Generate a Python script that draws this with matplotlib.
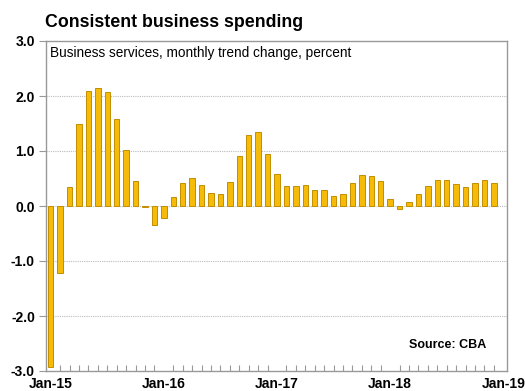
import matplotlib.pyplot as plt
import numpy as np

plt.rcParams['font.family'] = ['Liberation Sans', 'DejaVu Sans']

# monthly trend change, Jan-15 .. Dec-18
values = [-2.92, -1.22, 0.35, 1.49, 2.09, 2.15, 2.07, 1.58, 1.02, 0.45, -0.02, -0.34,
          -0.21, 0.17, 0.41, 0.51, 0.39, 0.23, 0.21, 0.43, 0.91, 1.30, 1.35, 0.94,
          0.59, 0.36, 0.36, 0.38, 0.30, 0.29, 0.19, 0.21, 0.41, 0.57, 0.54, 0.45,
          0.12, -0.05, 0.08, 0.22, 0.36, 0.48, 0.47, 0.40, 0.34, 0.41, 0.47, 0.41]
tick_labels = ['Jan-15', 'Jan-16', 'Jan-17', 'Jan-18', 'Jan-19']
y_ticks = [-3.0, -2.0, -1.0, 0.0, 1.0, 2.0, 3.0]

x = np.arange(len(values))

fig = plt.figure(figsize=(5.25, 3.91), dpi=100)
ax = fig.add_axes([46/525, 1 - 371/391, (507-46)/525, (371-41)/391])

ax.bar(x, values, width=0.58, color='#F6BA08', edgecolor='#C28E00', linewidth=0.7, zorder=3)

ax.set_xlim(-0.5, 48.4)
ax.set_ylim(-3, 3)

for g in [-2, -1, 0, 1, 2]:
    ax.axhline(g, color='#BBBBBB', linestyle=(0, (1, 1)), linewidth=0.8, zorder=1)

ax.set_yticks(y_ticks)
ax.set_yticklabels(['%.1f' % v for v in y_ticks], fontsize=10, fontweight='bold')
ax.set_xticks([0, 12, 24, 36, 48])
ax.set_xticklabels(tick_labels, fontsize=10, fontweight='bold')
ax.tick_params(axis='x', length=0, pad=4)
ax.tick_params(axis='y', length=5, color='#999999', direction='out', pad=3)
ax.set_xticks(x, minor=True)
ax.tick_params(axis='x', which='minor', direction='in', length=4, width=0.8, color='#999999')

for s in ax.spines.values():
    s.set_color('#999999')
    s.set_linewidth(1)

ax.text(0.008, 0.985, 'Business services, monthly trend change, percent',
        transform=ax.transAxes, ha='left', va='top', fontsize=9.8)
ax.text(0.954, 0.079, 'Source: CBA', transform=ax.transAxes, ha='right',
        va='center', fontsize=9, fontweight='bold')

fig.text(45/525, 1 - 27/391, 'Consistent business spending', ha='left',
         va='baseline', fontsize=12.8, fontweight='bold')

fig.savefig('out.png', dpi=100)
